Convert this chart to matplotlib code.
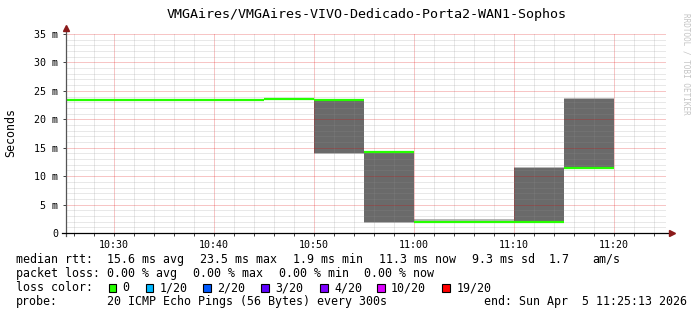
import matplotlib.pyplot as plt
from matplotlib.patches import Rectangle
from matplotlib.ticker import FixedLocator, MultipleLocator

W, H = 697, 315
MONO = 'DejaVu Sans Mono'

title = 'VMGAires/VMGAires-VIVO-Dedicado-Porta2-WAN1-Sophos'

# 5 minute steps, minutes after 10:00
edges = [20, 25, 30, 35, 40, 45, 50, 55, 60, 65, 70, 75, 80]
median_ms = [23.4, 23.4, 23.4, 23.4, 23.4, 23.6, 23.4, 14.2, 1.95, 1.95, 1.95, 11.4]
smoke_lo = [23.4, 23.4, 23.4, 23.4, 23.4, 23.6, 14.0, 1.9, 1.95, 1.95, 1.95, 11.4]
smoke_hi = [23.4, 23.4, 23.4, 23.4, 23.4, 23.6, 23.4, 14.2, 1.95, 1.95, 11.4, 23.6]
ping_min = [23.4, 23.4, 23.4, 23.4, 23.4, 23.6, 13.85, 1.8, 1.95, 1.95, 1.95, 11.4]
ping_max = [23.4, 23.4, 23.4, 23.4, 23.4, 23.6, 23.4, 14.2, 2.4, 2.4, 11.55, 23.75]

t_start, t_end = 25 + 13 / 60, 85 + 13 / 60
y_max = 35.17

xtick_pos = [30, 40, 50, 60, 70, 80]
xtick_labels = ['10:30', '10:40', '10:50', '11:00', '11:10', '11:20']
ytick_pos = [0, 5, 10, 15, 20, 25, 30, 35]
ytick_labels = ['0', '5 m', '10 m', '15 m', '20 m', '25 m', '30 m', '35 m']

rtt_stats = [15.6, 23.5, 1.9, 11.3, 9.3]
rtt_names = ['avg', 'max', 'min', 'now', 'sd']
am_per_s = 1.7
loss_stats = [0.00, 0.00, 0.00, 0.00]
loss_names = ['avg', 'max', 'min', 'now']
loss_labels = ['0', '1/20', '2/20', '3/20', '4/20', '10/20', '19/20']
loss_colors = ['#26ff00', '#00b8ff', '#0059ff', '#5e00ff', '#7e00ff', '#dd00ff', '#ff0000']
probe = '20 ICMP Echo Pings (56 Bytes) every 300s'
end_stamp = 'end: Sun Apr  5 11:25:13 2026'


def fx(x):
    return x / W


def fy(y):
    return 1 - y / H


fig = plt.figure(figsize=(W / 100, H / 100), dpi=100)
ax = fig.add_axes([fx(66), fy(233), 600 / W, 200 / H])

# smoke + median
ax.stairs(ping_max, edges, baseline=ping_min, fill=True, color='#b8b8b8', lw=0, zorder=1)
ax.stairs(smoke_hi, edges, baseline=smoke_lo, fill=True, color='#6a6a6a', lw=0, zorder=1.2)
ax.hlines(median_ms, edges[:-1], edges[1:], colors=loss_colors[0], lw=1.6, zorder=3)

ax.set_xlim(t_start, t_end)
ax.set_ylim(0, y_max)

ax.xaxis.set_major_locator(FixedLocator(xtick_pos))
ax.xaxis.set_minor_locator(MultipleLocator(2))
ax.set_xticklabels(xtick_labels, family=MONO, fontsize=7.2)
ax.yaxis.set_major_locator(FixedLocator(ytick_pos))
ax.yaxis.set_minor_locator(MultipleLocator(1))
ax.set_yticklabels(ytick_labels, family=MONO, fontsize=7.2)

ax.set_axisbelow(False)
ax.grid(which='minor', color='#909090', alpha=0.4, lw=0.72, ls=(0, (1, 1)))
ax.grid(which='major', color='#e00000', alpha=0.45, lw=0.72, ls=(0, (1, 1)))

ax.tick_params(axis='x', which='both', length=2, width=0.72, color='#444444', pad=3)
ax.tick_params(axis='y', which='major', length=2, width=0.72, color='#444444', pad=3.5)
ax.tick_params(axis='y', which='minor', length=0)

for s in ax.spines.values():
    s.set_visible(False)
ax.plot([0, 0], [-0.015, 1.02], color='#555555', lw=0.9, transform=ax.transAxes, clip_on=False, zorder=4)
ax.plot([-0.007, 1.008], [0, 0], color='#000000', lw=0.9, transform=ax.transAxes, clip_on=False, zorder=4)
ax.plot([0], [1.025], marker='^', ms=4, color='#8b1a1a', transform=ax.transAxes, clip_on=False, zorder=5)
ax.plot([1.01], [0], marker='>', ms=4, color='#8b1a1a', transform=ax.transAxes, clip_on=False, zorder=5)

fig.text(fx(367), fy(18.3), title, family=MONO, fontsize=9.6, ha='center', va='baseline')
fig.text(fx(11), fy(132.5), 'Seconds', family=MONO, fontsize=8.4, rotation=90, ha='center', va='center')
fig.text(fx(686), fy(64), 'RRDTOOL / TOBI OETIKER', family=MONO, fontsize=5.5, color='#c4c4c4',
         rotation=-90, ha='center', va='center')

lg = dict(family=MONO, fontsize=8.4, va='baseline')
rows = [263, 277.1, 291.2, 305.3]

fig.text(fx(16), fy(rows[0]), 'median rtt:', **lg)
rtt_x = [106.7, 200, 292.7, 378.7, 471.7]
for x, v, n in zip(rtt_x, rtt_stats, rtt_names):
    fig.text(fx(x), fy(rows[0]), f'{v:.1f} ms {n}', **lg)
fig.text(fx(548.7), fy(rows[0]), f'{am_per_s:.1f}', **lg)
fig.text(fx(592), fy(rows[0]), 'am/s', **lg)

fig.text(fx(16), fy(rows[1]), 'packet loss:', **lg)
loss_x = [106.7, 192.7, 278.7, 364.4]
for x, v, n in zip(loss_x, loss_stats, loss_names):
    fig.text(fx(x), fy(rows[1]), f'{v:.2f} % {n}', **lg)

fig.text(fx(16), fy(rows[2]), 'loss color:', **lg)
sq_x = [108.7, 145.7, 203, 261.3, 320, 377, 442.3]
for x, lab, c in zip(sq_x, loss_labels, loss_colors):
    fig.patches.append(Rectangle((fx(x), fy(291.7)), 7.5 / W, 8 / H, transform=fig.transFigure,
                                 facecolor=c, edgecolor='black', lw=0.8))
    fig.text(fx(x + 14), fy(rows[2]), lab, **lg)

fig.text(fx(16), fy(rows[3]), 'probe:', **lg)
fig.text(fx(106.7), fy(rows[3]), probe, **lg)
fig.text(fx(483.7), fy(rows[3]), end_stamp, **lg)

fig.savefig('out.png', dpi=100)
